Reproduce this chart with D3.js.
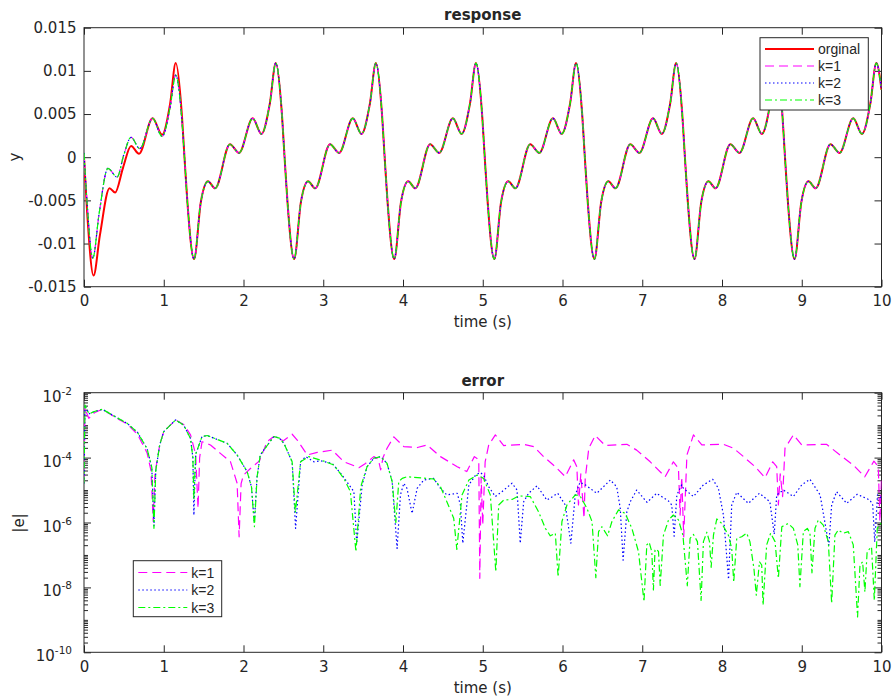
<!DOCTYPE html>
<html>
<head>
<meta charset="utf-8">
<script src="https://cdn.jsdelivr.net/npm/d3@7"></script>
<style>
  body { margin: 0; background: #fff; }
  text { fill: #262626; }
</style>
</head>
<body>
<svg id="chart" width="893" height="700"></svg>
<script>
// tick values / labels
var xTicks = [0, 1, 2, 3, 4, 5, 6, 7, 8, 9, 10];
var yTopTicks = [-0.015, -0.01, -0.005, 0, 0.005, 0.01, 0.015];
var yTopLabels = ["-0.015", "-0.01", "-0.005", "0", "0.005", "0.01", "0.015"];
var yBotTicks = [1e-10, 1e-8, 1e-6, 1e-4, 1e-2];
var yBotExp = ["-10", "-8", "-6", "-4", "-2"];

// response: original signal [t, y]
var respOrig = [
  [0,0],[0.04,-0.0065],[0.12,-0.0137],[0.2,-0.009],[0.32,-0.0036],[0.39,-0.0041],[0.49,-0.0012],[0.59,0.0013],[0.69,0.0004],[0.86,0.0045],[0.98,0.0026],[1.08,0.0062],[1.15,0.0109],[1.225,0.0052],[1.26,0.0],[1.295,-0.005],
  [1.38,-0.0118],[1.465,-0.0052],[1.555,-0.0028],[1.645,-0.0036],[1.83,0.0015],[1.945,0.0005],[2.115,0.0045],[2.225,0.0027],[2.33,0.0062],[2.405,0.0109],[2.48,0.0052],[2.515,0.0],[2.55,-0.005],
  [2.635,-0.0118],[2.72,-0.0052],[2.81,-0.0028],[2.90,-0.0036],[3.085,0.0015],[3.20,0.0005],[3.37,0.0045],[3.48,0.0027],[3.585,0.0062],[3.66,0.0109],[3.735,0.0052],[3.77,0.0],[3.805,-0.005],
  [3.89,-0.0118],[3.975,-0.0052],[4.065,-0.0028],[4.155,-0.0036],[4.34,0.0015],[4.455,0.0005],[4.625,0.0045],[4.735,0.0027],[4.84,0.0062],[4.915,0.0109],[4.99,0.0052],[5.025,0.0],[5.06,-0.005],
  [5.145,-0.0118],[5.23,-0.0052],[5.32,-0.0028],[5.41,-0.0036],[5.595,0.0015],[5.71,0.0005],[5.88,0.0045],[5.99,0.0027],[6.095,0.0062],[6.17,0.0109],[6.245,0.0052],[6.28,0.0],[6.315,-0.005],
  [6.40,-0.0118],[6.485,-0.0052],[6.575,-0.0028],[6.665,-0.0036],[6.85,0.0015],[6.965,0.0005],[7.135,0.0045],[7.245,0.0027],[7.35,0.0062],[7.425,0.0109],[7.50,0.0052],[7.535,0.0],[7.57,-0.005],
  [7.655,-0.0118],[7.74,-0.0052],[7.83,-0.0028],[7.92,-0.0036],[8.105,0.0015],[8.22,0.0005],[8.39,0.0045],[8.50,0.0027],[8.605,0.0062],[8.68,0.0109],[8.755,0.0052],[8.79,0.0],[8.825,-0.005],
  [8.91,-0.0118],[8.995,-0.0052],[9.085,-0.0028],[9.175,-0.0036],[9.36,0.0015],[9.475,0.0005],[9.645,0.0045],[9.755,0.0027],[9.86,0.0062],[9.935,0.0109],[10.0,0.0078]
];

// response of k=1..3 before they settle onto the original (t < 1.38)
var respKEarly = [
  [0,0.0005],[0.04,-0.0055],[0.11,-0.0117],[0.19,-0.0065],[0.30,-0.0013],[0.415,-0.0023],[0.50,0.0003],[0.59,0.0023],[0.70,0.0010],[0.86,0.0045],[0.98,0.0024],[1.08,0.0058],[1.15,0.0095],[1.225,0.0046],[1.26,0.0],[1.295,-0.005]
];

// error |e| as [t, log10 value]
var errK1 = [
  [0,-4.8],[0.012,-2.4],[0.03,-2.6],[0.06,-2.79],[0.13,-2.62],[0.23,-2.51],[0.42,-2.8],[0.54,-2.96],[0.67,-3.28],[0.79,-3.85],[0.84,-4.4],[0.868,-5.97],[0.89,-4.5],[0.95,-3.6],[1.0,-3.2],[1.148,-2.84],[1.25,-2.98],[1.336,-3.3],[1.40,-3.9],[1.43,-5.56],[1.45,-4.0],[1.48,-3.51],[1.586,-3.61],[1.71,-3.87],[1.837,-4.13],[1.92,-4.79],[1.945,-6.44],[1.97,-4.8],[2.0,-4.54],[2.09,-4.33],[2.2,-4.1],[2.296,-3.51],[2.38,-3.35],[2.5,-3.48],[2.61,-3.28],[2.674,-3.46],[2.8,-3.92],[2.925,-3.84],[3.112,-3.77],[3.26,-4.13],[3.446,-4.31],[3.53,-4.18],[3.634,-3.97],[3.69,-4.05],[3.72,-4.38],[3.75,-4.0],[3.80,-3.71],[3.885,-3.36],[4.01,-3.66],[4.18,-3.69],[4.30,-3.61],[4.47,-3.97],[4.68,-4.28],[4.80,-4.43],[4.895,-3.97],[4.95,-4.07],[4.963,-7.72],[4.98,-4.6],[5.0,-6.08],[5.03,-4.13],[5.075,-3.61],[5.158,-3.30],[5.263,-3.63],[5.513,-3.59],[5.64,-3.66],[5.763,-3.97],[5.91,-4.28],[6.035,-4.59],[6.14,-4.07],[6.18,-4.28],[6.2,-5.46],[6.23,-4.5],[6.27,-5.87],[6.285,-4.64],[6.33,-3.71],[6.41,-3.32],[6.536,-3.63],[6.807,-3.59],[6.93,-3.77],[7.10,-4.13],[7.287,-4.59],[7.39,-4.13],[7.454,-4.33],[7.475,-5.77],[7.495,-4.6],[7.52,-6.44],[7.56,-3.92],[7.642,-3.30],[7.747,-3.61],[8.018,-3.59],[8.143,-3.71],[8.27,-3.97],[8.415,-4.28],[8.54,-4.62],[8.636,-4.13],[8.686,-4.28],[8.707,-5.46],[8.73,-4.5],[8.76,-5.2],[8.79,-3.71],[8.895,-3.30],[9.0,-3.61],[9.31,-3.59],[9.48,-3.92],[9.646,-4.23],[9.79,-4.59],[9.905,-4.11],[9.96,-4.28],[9.98,-5.97],[10.0,-4.64]
];
var errK2 = [
  [0,-4.8],[0.012,-2.38],[0.03,-2.5],[0.065,-2.65],[0.13,-2.58],[0.23,-2.51],[0.42,-2.78],[0.54,-2.94],[0.67,-3.22],[0.79,-3.72],[0.85,-4.3],[0.877,-6.1],[0.90,-4.4],[0.95,-3.6],[1.0,-3.2],[1.148,-2.84],[1.25,-3.0],[1.336,-3.41],[1.365,-4.0],[1.378,-5.77],[1.40,-3.9],[1.48,-3.35],[1.545,-3.32],[1.795,-3.56],[1.92,-3.92],[2.045,-4.43],[2.10,-4.9],[2.135,-6.0],[2.17,-4.6],[2.21,-3.92],[2.38,-3.35],[2.45,-3.4],[2.507,-3.56],[2.61,-4.13],[2.653,-6.18],[2.716,-4.13],[2.78,-3.97],[2.883,-4.13],[2.966,-4.1],[3.112,-4.18],[3.237,-4.54],[3.384,-5.05],[3.42,-6.64],[3.488,-4.84],[3.55,-4.28],[3.634,-4.02],[3.72,-3.97],[3.80,-4.18],[3.864,-4.74],[3.926,-6.80],[3.968,-5.15],[4.01,-4.79],[4.05,-4.95],[4.114,-5.72],[4.177,-4.95],[4.26,-4.69],[4.385,-4.64],[4.47,-4.95],[4.55,-5.15],[4.68,-5.1],[4.72,-5.46],[4.75,-6.64],[4.826,-4.84],[4.91,-4.54],[4.97,-4.46],[5.01,-4.54],[5.075,-4.90],[5.158,-5.2],[5.24,-5.05],[5.367,-4.79],[5.43,-5.0],[5.47,-6.64],[5.513,-5.36],[5.575,-5.1],[5.68,-4.87],[5.805,-5.31],[5.94,-5.10],[6.035,-5.46],[6.105,-6.64],[6.16,-5.15],[6.22,-4.76],[6.285,-4.84],[6.43,-5.1],[6.60,-4.69],[6.68,-4.90],[6.724,-5.56],[6.76,-7.16],[6.807,-5.67],[6.85,-5.36],[6.93,-5.0],[7.06,-5.38],[7.18,-5.1],[7.33,-5.34],[7.37,-5.46],[7.40,-6.42],[7.434,-5.15],[7.495,-4.84],[7.517,-4.95],[7.642,-5.2],[7.767,-4.84],[7.884,-4.67],[7.955,-4.95],[8.018,-5.77],[8.082,-7.75],[8.122,-5.46],[8.185,-5.07],[8.33,-5.41],[8.47,-5.1],[8.60,-5.36],[8.655,-6.36],[8.686,-5.15],[8.77,-5.0],[8.895,-5.2],[9.0,-4.84],[9.103,-4.67],[9.23,-5.15],[9.34,-6.7],[9.375,-5.46],[9.437,-5.05],[9.563,-5.41],[9.696,-5.13],[9.855,-5.31],[9.89,-5.46],[9.915,-6.6],[9.95,-5.15],[10.0,-5.25]
];
var errK3 = [
  [0,-4.8],[0.012,-2.38],[0.03,-2.5],[0.065,-2.65],[0.13,-2.58],[0.23,-2.51],[0.42,-2.78],[0.54,-2.94],[0.67,-3.22],[0.79,-3.72],[0.85,-4.3],[0.877,-6.18],[0.90,-4.4],[0.95,-3.6],[1.0,-3.2],[1.148,-2.84],[1.25,-3.0],[1.336,-3.41],[1.365,-4.0],[1.378,-5.3],[1.40,-3.9],[1.48,-3.35],[1.545,-3.32],[1.795,-3.56],[1.92,-3.92],[2.045,-4.43],[2.10,-4.9],[2.137,-6.13],[2.17,-4.6],[2.21,-3.92],[2.38,-3.35],[2.45,-3.4],[2.507,-3.56],[2.61,-4.13],[2.65,-5.7],[2.716,-4.13],[2.82,-3.97],[3.008,-4.11],[3.133,-4.23],[3.258,-4.64],[3.34,-5.05],[3.41,-6.90],[3.47,-4.9],[3.55,-4.28],[3.634,-4.02],[3.72,-3.97],[3.80,-4.18],[3.864,-4.74],[3.91,-6.0],[3.947,-4.74],[3.99,-4.64],[4.05,-4.59],[4.385,-4.66],[4.47,-4.90],[4.55,-5.36],[4.636,-5.87],[4.675,-6.83],[4.74,-5.15],[4.826,-4.69],[4.93,-4.54],[5.01,-4.64],[5.095,-5.15],[5.164,-7.52],[5.2,-5.46],[5.263,-5.31],[5.367,-5.29],[5.45,-5.18],[5.596,-5.2],[5.7,-5.67],[5.785,-6.18],[5.847,-6.41],[5.91,-6.33],[5.945,-7.68],[5.993,-5.97],[6.056,-5.46],[6.16,-5.15],[6.22,-5.18],[6.306,-5.56],[6.37,-5.97],[6.418,-7.7],[6.452,-6.28],[6.494,-6.13],[6.565,-6.41],[6.62,-5.97],[6.703,-5.61],[6.786,-5.72],[6.87,-6.18],[6.953,-6.90],[7.022,-8.44],[7.057,-6.69],[7.087,-6.61],[7.12,-6.90],[7.14,-8.08],[7.16,-6.85],[7.18,-6.82],[7.204,-6.90],[7.225,-7.94],[7.266,-6.39],[7.33,-5.92],[7.39,-5.77],[7.454,-5.92],[7.51,-6.39],[7.565,-7.95],[7.60,-6.49],[7.642,-6.37],[7.692,-6.59],[7.738,-8.4],[7.767,-6.59],[7.81,-6.30],[7.843,-6.59],[7.864,-7.38],[7.893,-6.39],[7.935,-5.89],[7.997,-6.03],[8.08,-6.39],[8.122,-6.80],[8.147,-7.84],[8.185,-6.49],[8.247,-6.44],[8.31,-6.33],[8.35,-6.59],[8.40,-7.41],[8.43,-8.24],[8.47,-7.21],[8.498,-7.31],[8.515,-8.55],[8.56,-6.69],[8.61,-6.33],[8.665,-6.59],[8.707,-7.72],[8.75,-6.13],[8.83,-6.03],[8.895,-6.18],[8.95,-6.69],[8.977,-7.98],[9.02,-6.28],[9.07,-6.18],[9.103,-6.33],[9.128,-7.55],[9.166,-6.18],[9.208,-5.92],[9.27,-6.08],[9.333,-6.59],[9.375,-8.49],[9.416,-6.39],[9.458,-6.23],[9.52,-6.33],[9.584,-6.28],[9.646,-6.69],[9.70,-8.91],[9.73,-7.31],[9.763,-7.21],[9.792,-8.14],[9.82,-6.90],[9.875,-6.75],[9.91,-8.4],[9.947,-6.18],[9.99,-6.03],[10.0,-6.1]
];

var svg = d3.select("#chart");
var axisColor = "#262626";
var tickFont = "DejaVu Sans";

// both panels share the same time axis
var x = d3.scaleLinear().domain([0, 10]).range([84, 881.5]);
var yTop = d3.scaleLinear().domain([-0.015, 0.015]).range([286.7, 27.7]);
var yBot = d3.scaleLog().domain([1e-10, 1e-2]).range([652.3, 392.7]);

// k curves sit on the original once the transient is over
var respK = respKEarly.concat(respOrig.filter(function(d){ return d[0] >= 1.38; }));

var styles = {
    orig: {color: "#ff0000", width: 2, dash: null},
    k1:   {color: "#ff00ff", width: 1.2, dash: "9,5"},
    k2:   {color: "#0000ff", width: 1.2, dash: "1.5,2.5"},
    k3:   {color: "#00d800", width: 1.2, dash: "7,3,2,3"}
};
styles.k3.color = "#00ff00";

function styleAxis(g){
    g.attr("font-size", null).attr("font-family", null);
    g.select(".domain").remove();
    g.selectAll("line").attr("stroke", axisColor);
    g.selectAll("text").attr("font-size", 15).attr("font-family", tickFont).attr("fill", axisColor);
}

function drawFrame(y, top, bottom, leftAxis){
    var g = svg.append("g");
    g.append("g").attr("transform", "translate(0," + bottom + ")")
        .call(d3.axisBottom(x).tickValues(xTicks).tickSize(-7).tickSizeOuter(0).tickPadding(9).tickFormat(function(d){ return d; }))
        .call(styleAxis);
    g.append("g").attr("transform", "translate(0," + top + ")")
        .call(d3.axisTop(x).tickValues(xTicks).tickSize(-7).tickSizeOuter(0).tickFormat(""))
        .call(styleAxis);
    g.append("g").attr("transform", "translate(84,0)").call(leftAxis).call(styleAxis);
    g.append("rect")
        .attr("x", 84).attr("y", top)
        .attr("width", 881.5 - 84).attr("height", bottom - top)
        .attr("fill", "none").attr("stroke", axisColor).attr("stroke-width", 1);
    return g;
}

function addClip(id, top, bottom){
    svg.append("clipPath").attr("id", id)
        .append("rect").attr("x", 84).attr("y", top).attr("width", 881.5 - 84).attr("height", bottom - top);
}

function drawLine(gen, data, st, clip){
    svg.append("path")
        .datum(data)
        .attr("d", gen)
        .attr("clip-path", "url(#" + clip + ")")
        .attr("fill", "none")
        .attr("stroke", st.color)
        .attr("stroke-width", st.width)
        .attr("stroke-dasharray", st.dash)
        .attr("stroke-linejoin", "round");
}

function drawLegend(x0, y0, w, h, rows, items){
    var g = svg.append("g");
    g.append("rect").attr("x", x0).attr("y", y0).attr("width", w).attr("height", h)
        .attr("fill", "#fff").attr("stroke", axisColor).attr("stroke-width", 1);
    items.forEach(function(it, i){
        g.append("line")
            .attr("x1", x0 + 5).attr("x2", x0 + 54)
            .attr("y1", rows[i]).attr("y2", rows[i])
            .attr("stroke", it.st.color).attr("stroke-width", it.st.width)
            .attr("stroke-dasharray", it.st.dash);
        g.append("text")
            .attr("x", x0 + 58).attr("y", rows[i] + 5)
            .attr("font-family", "Liberation Sans").attr("font-size", 14)
            .text(it.label);
    });
}

// ---------- top: response ----------
drawFrame(yTop, 27.7, 286.7,
    d3.axisLeft(yTop).tickValues(yTopTicks).tickSize(-7).tickSizeOuter(0).tickPadding(7.5)
      .tickFormat(function(d, i){ return yTopLabels[i]; }));
svg.append("g").attr("transform", "translate(881.5,0)")
    .call(d3.axisRight(yTop).tickValues(yTopTicks).tickSize(-7).tickSizeOuter(0).tickFormat(""))
    .call(styleAxis);
addClip("clipTop", 27.7, 286.7);

var lineTop = d3.line().x(function(d){ return x(d[0]); }).y(function(d){ return yTop(d[1]); }).curve(d3.curveMonotoneX);
drawLine(lineTop, respOrig, styles.orig, "clipTop");
drawLine(lineTop, respK, styles.k1, "clipTop");
drawLine(lineTop, respK, styles.k2, "clipTop");
drawLine(lineTop, respK, styles.k3, "clipTop");

drawLegend(760, 37.7, 108.3, 72.3, [49, 66, 83, 100], [
    {label: "orginal", st: styles.orig},
    {label: "k=1", st: styles.k1},
    {label: "k=2", st: styles.k2},
    {label: "k=3", st: styles.k3}
]);

svg.append("text").attr("x", 482.75).attr("y", 20).attr("text-anchor", "middle")
    .attr("font-family", tickFont).attr("font-size", 15).attr("font-weight", "bold").text("response");
svg.append("text").attr("x", 482.75).attr("y", 326.7).attr("text-anchor", "middle")
    .attr("font-family", tickFont).attr("font-size", 15).text("time (s)");
svg.append("text").attr("transform", "translate(20,157) rotate(-90)").attr("text-anchor", "middle")
    .attr("font-family", tickFont).attr("font-size", 15).text("y");

// ---------- bottom: error ----------
var minorTicks = [];
d3.range(-10, -2).forEach(function(e){
    d3.range(1, 10).forEach(function(m){
        if (!(m === 1 && e % 2 === 0)) minorTicks.push(m * Math.pow(10, e));
    });
});

drawFrame(yBot, 392.7, 652.3,
    d3.axisLeft(yBot).tickValues(yBotTicks).tickSize(-7).tickSizeOuter(0).tickPadding(7).tickFormat(function(){ return ""; }));
// log labels 10^n
svg.selectAll(".expLabel")
    .data(yBotTicks)
    .enter().append("text")
    .attr("class", "expLabel")
    .attr("x", 72).attr("y", function(d){ return yBot(d) + 9; })
    .attr("text-anchor", "end")
    .attr("font-family", tickFont).attr("font-size", 15)
    .each(function(d, i){
        var t = d3.select(this);
        t.append("tspan").text("10");
        t.append("tspan").attr("dy", -7).attr("font-size", 10.5).text(yBotExp[i]);
    });
[84, 881.5].forEach(function(px, side){
    var ax = side === 0 ? d3.axisLeft(yBot).tickSize(-4) : d3.axisRight(yBot).tickSize(-4);
    svg.append("g").attr("transform", "translate(" + px + ",0)")
        .call(ax.tickValues(minorTicks).tickSizeOuter(0).tickFormat(""))
        .call(styleAxis);
    if (side === 1) {
        svg.append("g").attr("transform", "translate(" + px + ",0)")
            .call(d3.axisRight(yBot).tickValues(yBotTicks).tickSize(-7).tickSizeOuter(0).tickFormat(""))
            .call(styleAxis);
    }
});
addClip("clipBot", 392.7, 652.3);

var lineBot = d3.line().x(function(d){ return x(d[0]); }).y(function(d){ return yBot(Math.pow(10, d[1])); });
drawLine(lineBot, errK1, styles.k1, "clipBot");
drawLine(lineBot, errK2, styles.k2, "clipBot");
drawLine(lineBot, errK3, styles.k3, "clipBot");

drawLegend(133.3, 560.7, 88.4, 56, [572.5, 590, 607.5], [
    {label: "k=1", st: styles.k1},
    {label: "k=2", st: styles.k2},
    {label: "k=3", st: styles.k3}
]);

svg.append("text").attr("x", 482.75).attr("y", 386).attr("text-anchor", "middle")
    .attr("font-family", tickFont).attr("font-size", 15).attr("font-weight", "bold").text("error");
svg.append("text").attr("x", 482.75).attr("y", 692.7).attr("text-anchor", "middle")
    .attr("font-family", tickFont).attr("font-size", 15).text("time (s)");
svg.append("text").attr("transform", "translate(23.5,523) rotate(-90)").attr("text-anchor", "middle")
    .attr("font-family", tickFont).attr("font-size", 15).text("|e|");
</script>
</body>
</html>
